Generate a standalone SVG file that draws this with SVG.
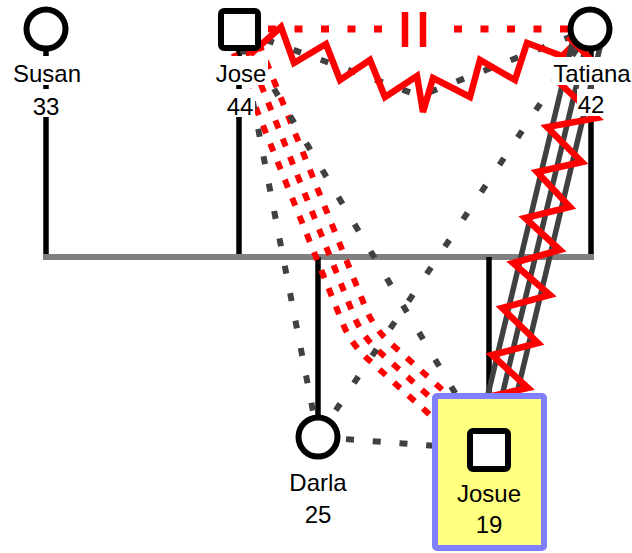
<svg xmlns="http://www.w3.org/2000/svg" width="632" height="553" viewBox="0 0 632 553">
<style>
  .fam { stroke: #000; stroke-width: 5.5; fill: none; }
  .famh { stroke: #808080; stroke-width: 6; fill: none; }
  .gdot { stroke: #404040; stroke-width: 6; fill: none; stroke-dasharray: 8 21; }
  .rdot { stroke: #ff0000; stroke-width: 6; fill: none; stroke-dasharray: 8.5 11; }
  .rtop { stroke: #ff0000; stroke-width: 7; fill: none; stroke-dasharray: 8 18.5; }
  .zig { stroke: #ff0000; stroke-width: 6.5; fill: none; stroke-linejoin: miter; }
  .gsol { stroke: #404040; stroke-width: 5.5; fill: none; }
  .sym { fill: #fff; stroke: #000; stroke-width: 6; }
  .lbl { font-family: "Liberation Sans", Arial, sans-serif; font-size: 24px; fill: #000; text-anchor: middle; }
  .bg { fill: #fff; }
</style>

<g id="connectors">
  <!-- family lines -->
  <line class="fam" x1="46" y1="29" x2="46" y2="257"/>
  <line class="fam" x1="239" y1="29" x2="239" y2="257"/>
  <line class="fam" x1="591" y1="29" x2="591" y2="257"/>
  <line class="famh" x1="43" y1="257" x2="594" y2="257"/>
  <line class="fam" x1="318" y1="257" x2="318" y2="437"/>
  <line class="fam" x1="489" y1="257" x2="489" y2="450"/>

  <!-- Jose - Tatiana -->
  <line class="rtop" x1="268" y1="29" x2="390" y2="29"/>
  <line class="rtop" x1="454" y1="29" x2="590" y2="29"/>
  <line x1="405" y1="12" x2="405" y2="47" stroke="#ff0000" stroke-width="6.5"/>
  <line x1="423" y1="12" x2="423" y2="47" stroke="#ff0000" stroke-width="6.5"/>
  <path class="gdot" d="M239,30 L420,96 L590,29"/>
  <path class="zig" d="M239,30 L253,52 L281,27 L294,63 L326,44 L340,80 L370,60 L385,97 L417,76 L423,112 L433,78 L470,97 L480,60 L515,80 L527,43 L562,56 L590,29"/>

  <!-- Jose - Josue -->
  <path class="rdot" d="M226.5,35 L342.7,323.3 Q350.9,343.7 367.2,358.4 L480,460"/>
  <path class="rdot" d="M239,30 L353.8,315.6 Q362,336 378.3,350.7 L489,450"/>
  <path class="rdot" d="M251.5,25 L365.4,307.5 Q373.6,327.9 389.9,342.6 L498,440"/>
  <line class="gdot" x1="239" y1="30" x2="489" y2="450" style="stroke-dasharray:8 23.5; stroke-dashoffset:-5.4"/>

  <!-- Jose - Darla -->
  <line class="gdot" x1="239" y1="30" x2="318" y2="437" style="stroke-dasharray:8 19.9; stroke-dashoffset:-17"/>

  <!-- Tatiana - Darla -->
  <line class="gdot" x1="590" y1="29" x2="318" y2="437" style="stroke-dasharray:8 24.8; stroke-dashoffset:-24"/>

  <!-- Darla - Josue -->
  <line class="gdot" x1="318" y1="437" x2="489" y2="450" style="stroke-dasharray:8 18.8; stroke-dashoffset:-1.3"/>

  <!-- Tatiana - Josue -->
  <line class="gsol" x1="576.4" y1="25.7" x2="475.4" y2="446.7"/>
  <line class="gsol" x1="590" y1="29" x2="489" y2="450"/>
  <line class="gsol" x1="603.6" y1="32.3" x2="502.6" y2="453.3"/>
  <path class="zig" d="M568,36.5 L603,71.5 L558,81.5 L597,118 L547,127 L582,162 L537,172 L570,207 L525,218 L560,250 L513,263 L550,295 L502,308 L538,343 L492,355 L528,388 L483,398"/>
</g>

<g id="node-susan">
  <circle class="sym" cx="46" cy="29" r="19.5"/>
  <rect class="bg" x="12" y="56" width="70" height="29"/>
  <rect class="bg" x="32" y="89" width="29" height="28"/>
  <text class="lbl" x="47" y="82">Susan</text>
  <text class="lbl" x="46" y="115">33</text>
</g>

<g id="node-jose">
  <rect class="sym" x="221" y="11" width="37" height="37" rx="3"/>
  <rect class="bg" x="214" y="56" width="54" height="29"/>
  <rect class="bg" x="226" y="89" width="29" height="28"/>
  <text class="lbl" x="241" y="82">Jose</text>
  <text class="lbl" x="240" y="115">44</text>
</g>

<g id="node-tatiana">
  <circle class="sym" cx="590" cy="29" r="19.5"/>
  <rect class="bg" x="552" y="57" width="82" height="28"/>
  <rect class="bg" x="577" y="89" width="30" height="27"/>
  <text class="lbl" x="592" y="82">Tatiana</text>
  <text class="lbl" x="591" y="113">42</text>
</g>

<g id="node-darla">
  <circle class="sym" cx="318" cy="437" r="19.5"/>
  <text class="lbl" x="318" y="491">Darla</text>
  <text class="lbl" x="318" y="523">25</text>
</g>

<g id="node-josue">
  <rect x="435" y="396" width="109" height="152" rx="2" fill="#ffff80" stroke="#8080ff" stroke-width="6"/>
  <rect class="sym" x="470" y="431" width="38" height="38" rx="3"/>
  <text class="lbl" x="489" y="502">Josue</text>
  <text class="lbl" x="489" y="533">19</text>
</g>
</svg>
